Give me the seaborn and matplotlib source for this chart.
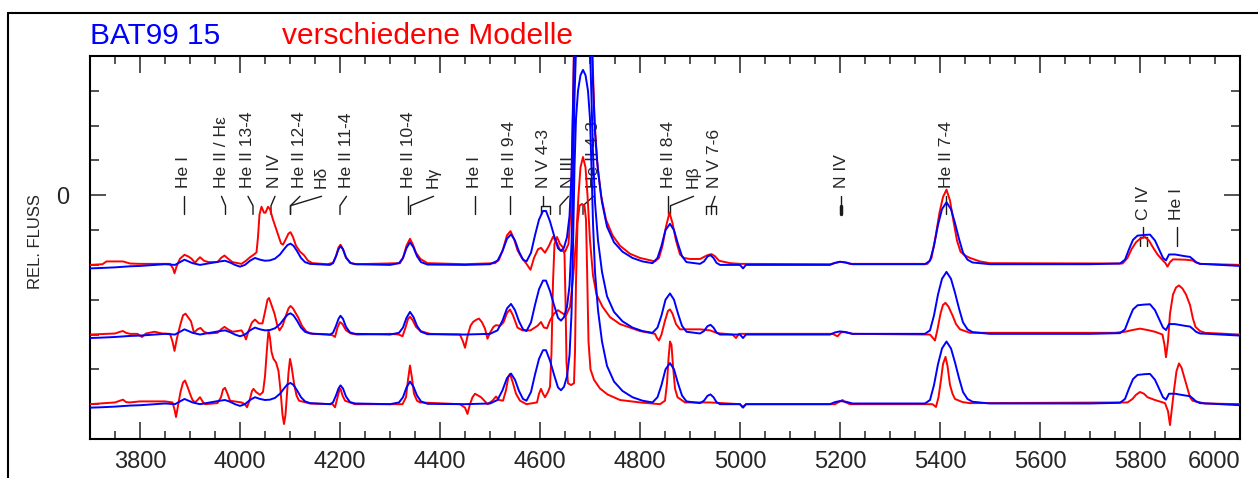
import matplotlib
matplotlib.use("Agg")
import matplotlib.pyplot as plt
from matplotlib.lines import Line2D
from matplotlib.ticker import MultipleLocator, FixedLocator
import pandas as pd
import seaborn as sns

# observed spectrum of BAT99 15: (wavelength, flux above continuum), same in all panels
obs = [(3700, -0.10), (3720, -0.09), (3750, -0.07), (3780, -0.04), (3800, -0.03), (3830, 0.0),
       (3850, 0.02), (3870, 0.0), (3880, 0.08), (3889, 0.15), (3897, 0.1), (3905, 0.05),
       (3920, 0.0), (3940, 0.05), (3960, 0.1), (3970, 0.12), (3980, 0.07), (3990, 0.0),
       (4000, -0.05), (4010, 0.0), (4020, 0.12), (4030, 0.2), (4040, 0.15), (4050, 0.12),
       (4060, 0.13), (4070, 0.18), (4080, 0.3), (4088, 0.45), (4095, 0.57), (4101, 0.61),
       (4107, 0.55), (4114, 0.4), (4122, 0.2), (4130, 0.08), (4140, 0.03), (4180, 0.0),
       (4186, 0.05), (4192, 0.25), (4197, 0.45), (4201, 0.54), (4206, 0.45), (4212, 0.22),
       (4220, 0.06), (4230, 0.02), (4300, 0.0), (4318, 0.05), (4326, 0.2), (4333, 0.48),
       (4340, 0.65), (4347, 0.5), (4354, 0.25), (4362, 0.08), (4375, 0.01), (4450, 0.0),
       (4500, 0.02), (4515, 0.12), (4525, 0.4), (4534, 0.75), (4542, 0.88), (4550, 0.7),
       (4558, 0.38), (4566, 0.15), (4573, 0.1), (4582, 0.35), (4590, 0.85), (4598, 1.3),
       (4606, 1.55), (4612, 1.55), (4620, 1.25), (4628, 0.85), (4636, 0.48), (4642, 0.4),
       (4648, 0.5), (4654, 0.8), (4659, 1.4), (4663, 2.6), (4666, 4.5), (4669, 6.8),
       (4672, 8.2), (4676, 9.0), (4681, 9.45), (4686, 9.6), (4691, 9.45), (4696, 9.0),
       (4700, 8.2), (4703, 6.8), (4706, 5.2), (4710, 3.8), (4716, 2.7), (4724, 1.8),
       (4734, 1.1), (4748, 0.65), (4765, 0.38), (4785, 0.2), (4805, 0.1), (4825, 0.05),
       (4835, 0.2), (4843, 0.55), (4851, 1.0), (4860, 1.18),
       (4868, 1.0), (4876, 0.6), (4884, 0.25), (4893, 0.08), (4920, 0.03), (4928, 0.1),
       (4935, 0.24), (4941, 0.28), (4947, 0.2), (4953, 0.06), (4960, 0.0), (5000, 0.0),
       (5006, -0.1), (5012, 0.0), (5180, 0.0), (5190, 0.06), (5200, 0.09), (5212, 0.07),
       (5225, 0.02), (5280, 0.02), (5370, 0.02), (5380, 0.12), (5388, 0.55), (5396, 1.15),
       (5404, 1.6), (5413, 1.8), (5422, 1.6), (5430, 1.2), (5438, 0.75), (5446, 0.35),
       (5455, 0.15), (5465, 0.07), (5500, 0.02), (5700, 0.02), (5760, 0.04), (5770, 0.15),
       (5778, 0.45), (5786, 0.72), (5795, 0.84), (5808, 0.86), (5820, 0.87), (5830, 0.7),
       (5838, 0.45), (5846, 0.2), (5852, 0.13), (5858, 0.3), (5870, 0.3), (5890, 0.25),
       (5900, 0.23), (5906, 0.16), (5912, 0.08), (5920, 0.03), (5936, 0.02), (6000, -0.03)]

# model 1 (top panel)
model1 = [(3700, 0.0), (3725, 0.02), (3733, 0.1), (3766, 0.1), (3780, 0.04), (3800, 0.03),
          (3860, 0.03), (3866, -0.1), (3869, -0.24), (3873, -0.05), (3880, 0.18), (3889, 0.29),
          (3897, 0.24), (3903, 0.18), (3910, 0.06), (3915, 0.15), (3920, 0.22), (3928, 0.12),
          (3937, 0.08), (3955, 0.08), (3962, 0.2), (3969, 0.27), (3976, 0.18), (3985, 0.08),
          (4003, 0.03), (4012, 0.12), (4020, 0.22), (4028, 0.3), (4033, 0.36), (4036, 0.8),
          (4039, 1.45), (4043, 1.67), (4048, 1.5), (4051, 1.5), (4056, 1.67), (4060, 1.6),
          (4066, 1.3), (4075, 0.92), (4082, 0.62), (4086, 0.58), (4092, 0.75), (4097, 0.9),
          (4101, 0.94), (4106, 0.8), (4112, 0.55), (4120, 0.38), (4128, 0.28), (4136, 0.12),
          (4145, 0.05), (4175, 0.02), (4186, 0.06), (4192, 0.25), (4197, 0.5), (4201, 0.58),
          (4206, 0.45), (4212, 0.2), (4222, 0.05), (4234, 0.02), (4320, 0.05), (4326, 0.2),
          (4333, 0.55), (4340, 0.75), (4346, 0.58), (4352, 0.35), (4361, 0.17), (4375, 0.05),
          (4450, 0.02), (4510, 0.05), (4518, 0.15), (4526, 0.45), (4534, 0.85), (4541, 0.97),
          (4548, 0.75), (4555, 0.42), (4563, 0.22), (4572, 0.05), (4581, -0.14), (4588, 0.2),
          (4596, 0.45), (4602, 0.49), (4610, 0.35), (4618, 0.55), (4626, 0.81), (4633, 0.65),
          (4640, 0.43), (4650, 0.38), (4657, 0.6), (4661, 1.5), (4664, 3.0), (4667, 5.5),
          (4670, 8.0), (4675, 10.0), (4686, 11.0), (4697, 10.0), (4702, 8.0), (4705, 6.0),
          (4709, 4.2), (4714, 3.0), (4722, 2.0), (4732, 1.3), (4745, 0.85), (4760, 0.55),
          (4780, 0.32), (4800, 0.2), (4830, 0.1), (4838, 0.2), (4845, 0.55), (4852, 1.1),
          (4859, 1.5), (4865, 1.2),
          (4872, 0.7), (4880, 0.3), (4888, 0.2), (4900, 0.17), (4920, 0.17), (4935, 0.28),
          (4943, 0.31), (4950, 0.25), (4958, 0.12), (4980, 0.05), (5000, 0.03), (5180, 0.02),
          (5192, 0.06), (5200, 0.09), (5210, 0.07), (5220, 0.03), (5375, 0.03), (5383, 0.2),
          (5391, 0.8), (5399, 1.5), (5406, 1.95), (5413, 2.16), (5420, 1.85), (5427, 1.25),
          (5434, 0.7), (5441, 0.38), (5450, 0.27), (5460, 0.2), (5480, 0.1), (5500, 0.05),
          (5765, 0.04), (5775, 0.2), (5783, 0.45), (5792, 0.65), (5800, 0.75), (5810, 0.8),
          (5818, 0.7), (5826, 0.5), (5835, 0.3), (5845, 0.14), (5851, 0.05), (5855, -0.05),
          (5860, 0.08), (5866, 0.16), (5890, 0.15), (5905, 0.13), (5912, 0.07), (5920, 0.03),
          (6000, 0.0)]

# model 2 (middle panel)
model2 = [(3700, 0.0), (3750, 0.03), (3760, 0.08), (3766, 0.1), (3772, 0.05), (3780, 0.02),
          (3795, 0.02), (3804, -0.07), (3812, 0.03), (3829, 0.08), (3845, 0.03), (3860, 0.02),
          (3865, -0.2), (3869, -0.47), (3874, -0.1), (3880, 0.25), (3886, 0.55), (3891, 0.6),
          (3897, 0.48), (3902, 0.38), (3908, 0.05), (3915, 0.15), (3921, 0.19), (3928, 0.08),
          (3937, 0.03), (3955, 0.05), (3963, 0.16), (3969, 0.22), (3976, 0.15), (3985, 0.08),
          (3995, 0.1), (4003, 0.12), (4008, 0.0), (4012, -0.14), (4017, 0.1), (4024, 0.35),
          (4030, 0.43), (4038, 0.32), (4045, 0.32), (4050, 0.65), (4055, 1.0), (4058, 1.05),
          (4063, 0.85), (4069, 0.6), (4074, 0.3), (4079, 0.12), (4085, 0.25), (4092, 0.55),
          (4097, 0.75), (4101, 0.82), (4106, 0.75), (4116, 0.5), (4124, 0.25), (4133, 0.08),
          (4145, 0.02), (4175, 0.0), (4185, -0.02), (4190, -0.07), (4195, 0.2), (4200, 0.36),
          (4205, 0.3), (4212, 0.12), (4222, 0.03), (4234, 0.0), (4300, 0.02), (4318, 0.0),
          (4325, -0.05), (4331, 0.2), (4336, 0.45), (4340, 0.51), (4345, 0.42), (4352, 0.22),
          (4361, 0.1), (4380, 0.02), (4440, 0.0), (4446, -0.2), (4450, -0.38), (4455, -0.05),
          (4461, 0.25), (4466, 0.36), (4472, 0.42), (4478, 0.46), (4484, 0.35), (4490, 0.17),
          (4495, -0.12), (4500, 0.05), (4507, 0.22), (4512, 0.27), (4520, 0.25), (4527, 0.35),
          (4534, 0.62), (4540, 0.72), (4546, 0.55), (4555, 0.2), (4565, 0.12), (4581, 0.12),
          (4595, 0.25), (4602, 0.36), (4608, 0.2), (4614, 0.18), (4620, 0.4), (4628, 0.6),
          (4636, 0.7), (4644, 0.62), (4652, 0.55), (4660, 0.8), (4666, 1.6), (4672, 2.7),
          (4677, 4.0), (4681, 4.8), (4686, 5.1), (4691, 4.8), (4695, 4.0), (4700, 2.7),
          (4706, 1.7), (4713, 1.15), (4725, 0.8), (4740, 0.5), (4760, 0.3), (4800, 0.1),
          (4830, 0.02), (4834, -0.1), (4838, -0.17), (4843, 0.0), (4850, 0.4), (4856, 0.68),
          (4860, 0.72), (4865, 0.6), (4872, 0.3), (4880, 0.15), (4900, 0.15), (4920, 0.15),
          (4940, 0.12), (4955, 0.04), (4985, 0.0), (4992, -0.1), (4998, 0.02), (5185, 0.02),
          (5195, -0.05), (5202, 0.06), (5208, 0.07), (5225, 0.02), (5380, 0.0), (5386, -0.1),
          (5390, -0.17), (5395, 0.15), (5401, 0.6), (5406, 0.85), (5411, 0.91), (5417, 0.8),
          (5425, 0.55), (5432, 0.3), (5440, 0.15), (5460, 0.05), (5750, 0.05), (5770, 0.08),
          (5785, 0.13), (5800, 0.17), (5815, 0.13), (5830, 0.08), (5845, 0.0), (5849, -0.3),
          (5852, -0.65), (5856, -0.2), (5860, 0.6), (5866, 1.15), (5872, 1.35), (5878, 1.41),
          (5885, 1.32), (5892, 1.15), (5900, 0.85), (5906, 0.45), (5911, 0.22), (5920, 0.1),
          (5930, 0.05), (6000, 0.0)]

# model 3 (bottom panel)
model3 = [(3700, 0.0), (3750, 0.05), (3760, 0.1), (3766, 0.13), (3772, 0.06), (3780, 0.05),
          (3800, 0.08), (3850, 0.08), (3865, 0.05), (3869, -0.15), (3872, -0.37), (3876, -0.05),
          (3881, 0.35), (3886, 0.62), (3890, 0.68), (3895, 0.5), (3900, 0.3), (3905, 0.12),
          (3910, 0.05), (3915, 0.12), (3920, 0.2), (3926, 0.06), (3930, 0.0), (3955, 0.03),
          (3962, 0.2), (3966, 0.42), (3970, 0.47), (3975, 0.3), (3980, 0.1), (4003, 0.05),
          (4010, 0.0), (4014, -0.09), (4019, 0.1), (4024, 0.38), (4027, 0.44), (4032, 0.35),
          (4040, 0.27), (4046, 0.35), (4050, 0.8), (4054, 1.6), (4057, 2.12), (4060, 1.9),
          (4063, 1.5), (4067, 1.3), (4072, 1.2), (4077, 0.95), (4081, 0.4), (4085, -0.3),
          (4088, -0.57), (4091, -0.3), (4094, 0.3), (4097, 0.9), (4100, 1.3), (4103, 1.1),
          (4108, 0.6), (4113, 0.25), (4118, 0.1), (4140, 0.02), (4185, 0.0), (4190, -0.09),
          (4195, 0.2), (4199, 0.42), (4201, 0.44), (4205, 0.25), (4210, 0.1), (4230, 0.0),
          (4325, 0.0), (4332, 0.2), (4336, 0.7), (4340, 1.11), (4344, 0.75), (4348, 0.3),
          (4354, 0.1), (4360, 0.05), (4440, 0.0), (4450, -0.1), (4455, -0.28), (4460, 0.0),
          (4465, 0.2), (4470, 0.3), (4476, 0.25), (4482, 0.2), (4490, 0.08), (4495, 0.0),
          (4505, 0.1), (4512, 0.22), (4518, 0.12), (4526, 0.1), (4532, 0.4), (4537, 0.8),
          (4540, 0.87), (4545, 0.65), (4552, 0.3), (4560, 0.1), (4573, 0.0), (4594, 0.05),
          (4598, 0.3), (4602, 0.44), (4606, 0.3), (4610, 0.2), (4616, 0.35), (4620, 0.5),
          (4623, 1.5), (4626, 3.5), (4629, 4.6), (4634, 4.8), (4640, 4.6), (4646, 4.5),
          (4649, 4.3), (4651, 3.0), (4653, 1.2), (4656, 0.6), (4662, 0.55), (4668, 0.6),
          (4670, 1.5), (4672, 3.5), (4675, 5.2), (4679, 5.7), (4684, 5.75), (4689, 5.7),
          (4692, 5.3), (4694, 4.0), (4697, 1.8), (4701, 1.0), (4708, 0.7), (4720, 0.45),
          (4735, 0.28), (4760, 0.12), (4800, 0.05), (4840, 0.0), (4850, 0.1), (4854, 0.6),
          (4857, 1.3), (4860, 1.8), (4863, 1.7), (4866, 1.1), (4870, 0.45), (4875, 0.2),
          (4890, 0.05), (4940, 0.05), (5000, 0.0), (5005, -0.08), (5012, 0.0), (5190, 0.0),
          (5200, 0.08), (5205, 0.12), (5210, 0.06), (5220, 0.0), (5385, 0.0), (5392, -0.08),
          (5397, 0.2), (5402, 0.7), (5406, 1.15), (5411, 1.36), (5415, 1.1), (5420, 0.55),
          (5425, 0.3), (5430, 0.15), (5445, 0.06), (5460, 0.03), (5775, 0.05), (5785, 0.15),
          (5792, 0.27), (5800, 0.35), (5808, 0.3), (5815, 0.2), (5830, 0.12), (5850, 0.03),
          (5856, -0.2), (5860, -0.6), (5864, -0.1), (5868, 0.4), (5873, 0.95), (5878, 1.17),
          (5883, 1.05), (5888, 0.8), (5895, 0.45), (5900, 0.2), (5905, 0.1), (5930, 0.02),
          (6000, 0.0)]

# line identifications: label, wavelength of the text, wavelength of the line
line_ids = [
    ("He I", 3888, 3889), ("He II / H\u03b5", 3963, 3971), ("He II 13-4", 4016, 4026),
    ("N IV", 4070, 4062), ("He II 12-4", 4120, 4101), ("H\u03b4", 4163, 4101),
    ("He II 11-4", 4213, 4200), ("He II 10-4", 4337, 4340), ("H\u03b3", 4387, 4341),
    ("He I", 4470, 4471), ("He II 9-4", 4540, 4541), ("N V 4-3", 4607, 4607),
    ("N III", 4657, 4640), ("He II 4-3", 4707, 4686), ("He II 8-4", 4857, 4859),
    ("H\u03b2", 4907, 4861), ("N V 7-6", 4950, 4943), ("N IV", 5203, 5203),
    ("He II 7-4", 5413, 5413),
]
low_ids = [("C IV", 5807, 5807), ("He I", 5873, 5875)]

offsets = [-2, -4, -6]
models = [model1, model2, model3]

sns.set_theme(style="white")
plt.rcParams["font.family"] = ["Liberation Sans", "DejaVu Sans"]

fig = plt.figure(figsize=(12.58, 4.78), dpi=100)
ax = fig.add_axes([0.07154, 0.08159, 0.91415, 0.80126])

dfo = pd.DataFrame(obs, columns=["wave", "flux"])
for model, off in zip(models, offsets):
    dfm = pd.DataFrame(model, columns=["wave", "flux"])
    dfm["flux"] += off
    sns.lineplot(data=dfm, x="wave", y="flux", sort=False, estimator=None,
                 color="#ff0000", lw=1.4, ax=ax, zorder=3)
    sns.lineplot(x=dfo["wave"], y=dfo["flux"] + off, sort=False, estimator=None,
                 color="#0000ff", lw=1.4, ax=ax, zorder=4)

ax.set_xlim(3700, 6000)
ax.set_ylim(-7, 4)

# identification marks
ya, yb, yc = -0.03, -0.3, -0.55
fs_id = 12.6
for lab, tw, lw_ in line_ids:
    ax.text(tw, 0.22, lab, rotation=90, ha="center", va="bottom", fontsize=fs_id, zorder=1)
    if lab.startswith("N V 4"):
        ax.plot([tw, tw], [ya, yb], color="k", lw=1, zorder=1)
        ax.plot([4603, 4603, 4620, 4620], [yc, yb, yb, yc], color="k", lw=1, zorder=1)
    elif lab.startswith("N V 7"):
        ax.plot([tw, lw_], [ya, yb], color="k", lw=1, zorder=1)
        ax.plot([4933, 4933, 4953, 4953], [yc, yb, yb, yc], color="k", lw=1, zorder=1)
        ax.plot([lw_, lw_], [yb, yc], color="k", lw=1, zorder=1)
    elif abs(tw - lw_) < 4:
        ax.plot([tw, tw], [ya, yc], color="k", lw=1, zorder=1)
        if lab == "N IV":
            ax.plot([tw, tw], [yb, yc], color="k", lw=2.5, zorder=1)
    else:
        ax.plot([tw, lw_, lw_], [ya, yb, yc], color="k", lw=1, zorder=1)

for lab, tw, lw_ in low_ids:
    ax.text(tw, -0.72, lab, rotation=90, ha="center", va="bottom", fontsize=fs_id, zorder=1)
    if lab == "C IV":
        ax.plot([tw, tw], [-0.92, -1.2], color="k", lw=1, zorder=1)
        ax.plot([5800, 5800, 5814, 5814], [-1.45, -1.2, -1.2, -1.45], color="k", lw=1, zorder=1)
    else:
        ax.plot([lw_, lw_], [-0.92, -1.47], color="k", lw=1, zorder=1)

# axes styling
for sp in ax.spines.values():
    sp.set_visible(True)
    sp.set_color("black")
    sp.set_linewidth(1.5)
ax.xaxis.set_major_locator(MultipleLocator(200))
ax.xaxis.set_minor_locator(MultipleLocator(50))
ax.yaxis.set_major_locator(FixedLocator([0]))
ax.yaxis.set_minor_locator(MultipleLocator(1))
ax.tick_params(axis="x", which="major", direction="in", length=12, width=1.3, color="#444444",
               top=True, bottom=True, labelsize=17, pad=9)
ax.tick_params(axis="x", which="minor", direction="in", length=6, width=1.3, color="#444444",
               top=True, bottom=True)
ax.tick_params(axis="y", which="major", direction="in", length=11.5, width=1.3, color="#444444",
               left=True, right=True, labelsize=17, pad=15)
ax.tick_params(axis="y", which="minor", direction="in", length=6.5, width=1.3, color="#444444",
               left=True, right=True)
ax.set_xlabel("")
ax.set_ylabel("")
ax.grid(False)
fig.canvas.draw()
for t in ax.get_xticklabels():
    if t.get_text() == "6000":
        t.set_ha("right")

fig.text(0.0286, 0.4937, "REL. FLUSS", rotation=90, ha="center", va="center", fontsize=12)
fig.text(0.0715, 0.908, "BAT99 15", color="#0000ff", fontsize=21.5, ha="left", va="baseline")
fig.text(0.2245, 0.908, "verschiedene Modelle", color="#ff0000", fontsize=21.5,
         ha="left", va="baseline")

# outer frame
fig.add_artist(Line2D([0.00636, 0.00636], [-0.1, 0.9728], transform=fig.transFigure,
                      color="black", lw=1.5))
fig.add_artist(Line2D([0.00636, 1.1], [0.9728, 0.9728], transform=fig.transFigure,
                      color="black", lw=1.5))

fig.savefig("out.png", dpi=100)
